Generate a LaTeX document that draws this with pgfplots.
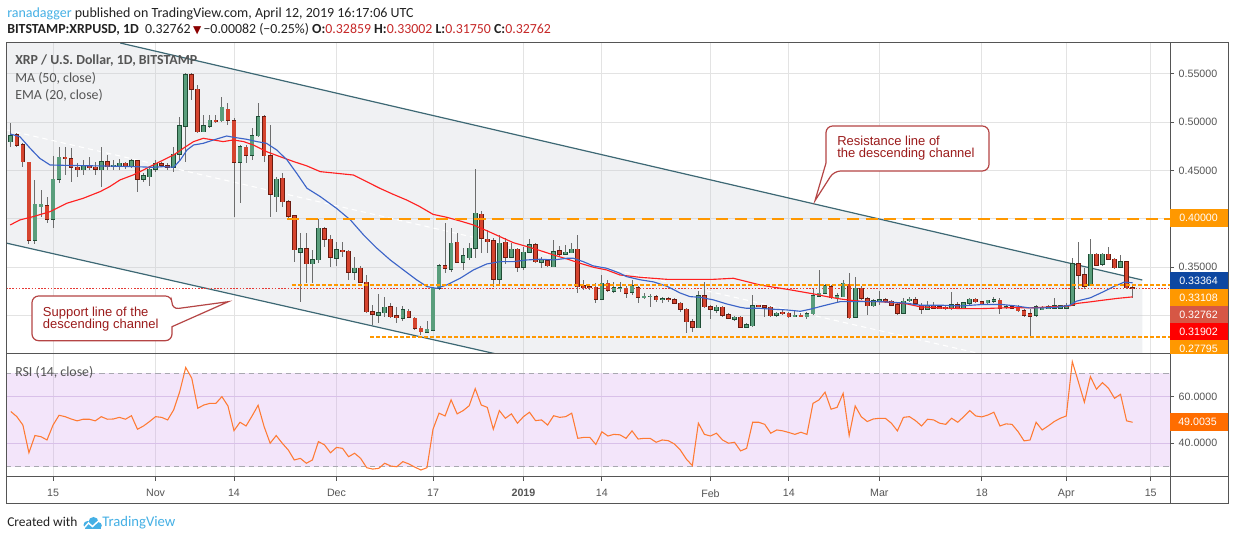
\documentclass[border=0pt]{standalone}
\usepackage{fontspec}
\setmainfont{Carlito}
\newfontfamily\arial{Liberation Sans}
\newfontfamily\dejavu{DejaVu Sans}
\usepackage{pgfplots}
\usepackage{pgfplotstable}
\pgfplotsset{compat=1.18}

\definecolor{upfill}{HTML}{5A9E7C}
\definecolor{upline}{HTML}{1F4D35}
\definecolor{dnfill}{HTML}{D5442E}
\definecolor{dnline}{HTML}{6B1B10}
\definecolor{wick}{HTML}{6E6E6E}
\definecolor{macol}{HTML}{FF2020}
\definecolor{emacol}{HTML}{3C64C8}
\definecolor{chan}{HTML}{3D6874}
\definecolor{chanbase}{HTML}{C7CBD3}
\definecolor{gridc}{HTML}{E3E3E3}
\definecolor{orng}{HTML}{FF9800}
\definecolor{pricered}{HTML}{E53935}
\definecolor{framec}{HTML}{555555}
\definecolor{lbl}{HTML}{555555}
\definecolor{boxblue}{HTML}{0D47A1}
\definecolor{boxsalmon}{HTML}{D65745}
\definecolor{boxred}{HTML}{FF0000}
\definecolor{rsibox}{HTML}{FF6D00}
\definecolor{rsiline}{HTML}{FF7A33}
\definecolor{rsibandbase}{HTML}{D39BEF}
\definecolor{rsihgrid}{HTML}{DCCDE8}
\definecolor{dashgray}{HTML}{A8A8B0}
\definecolor{callline}{HTML}{B54545}
\definecolor{calltext}{HTML}{9B1B1B}
\definecolor{tvblue}{HTML}{45B0E5}
\definecolor{hdr}{HTML}{222222}
\definecolor{valred}{HTML}{C62828}
\definecolor{darkred}{HTML}{8B0000}

\pgfplotstableread{
d o h l c
-7 0.4798 0.4995 0.4746 0.4856
-6 0.4867 0.4884 0.4746 0.4763
-5 0.4763 0.4780 0.4539 0.4591
-4 0.4584 0.4591 0.3735 0.3780
-3 0.3780 0.4401 0.3735 0.4149
-2 0.4125 0.4298 0.4021 0.4149
-1 0.4135 0.4229 0.3953 0.3994
0 0.3994 0.4653 0.3901 0.4408
1 0.4408 0.4746 0.4373 0.4636
2 0.4636 0.4739 0.4453 0.4629
3 0.4622 0.4729 0.4377 0.4532
4 0.4532 0.4573 0.4435 0.4505
5 0.4505 0.4608 0.4453 0.4549
6 0.4546 0.4643 0.4505 0.4532
7 0.4532 0.4591 0.4453 0.4511
8 0.4505 0.4739 0.4332 0.4591
9 0.4591 0.4660 0.4505 0.4539
10 0.4539 0.4608 0.4505 0.4553
11 0.4546 0.4618 0.4505 0.4573
12 0.4573 0.4591 0.4511 0.4539
13 0.4539 0.4615 0.4522 0.4598
14 0.4598 0.4608 0.4280 0.4408
15 0.4408 0.4470 0.4384 0.4442
16 0.4435 0.4546 0.4339 0.4511
17 0.4511 0.4608 0.4487 0.4570
18 0.4567 0.4591 0.4539 0.4556
19 0.4549 0.4573 0.4505 0.4532
20 0.4532 0.4746 0.4487 0.4667
21 0.4667 0.5056 0.4608 0.4960
22 0.4960 0.5505 0.4591 0.5488
23 0.5488 0.5512 0.5229 0.5339
24 0.5339 0.5384 0.4884 0.4901
25 0.4901 0.5074 0.4895 0.4963
26 0.4960 0.5074 0.4936 0.5019
27 0.5019 0.5074 0.4987 0.5012
28 0.5015 0.5257 0.5005 0.5153
29 0.5132 0.5201 0.4970 0.5019
30 0.5012 0.5039 0.4021 0.4584
31 0.4584 0.4763 0.4160 0.4746
32 0.4739 0.4763 0.4573 0.4660
33 0.4660 0.4936 0.4608 0.4860
34 0.4860 0.5195 0.4849 0.5056
35 0.5056 0.5074 0.4591 0.4653
36 0.4653 0.4970 0.4015 0.4256
37 0.4229 0.4435 0.4073 0.4408
38 0.4418 0.4470 0.4125 0.4177
39 0.4177 0.4194 0.4004 0.4028
40 0.4028 0.4039 0.3556 0.3677
41 0.3652 0.3856 0.3135 0.3690
42 0.3690 0.3856 0.3332 0.3532
43 0.3532 0.3677 0.3332 0.3573
44 0.3573 0.3994 0.3539 0.3901
45 0.3894 0.3918 0.3711 0.3787
46 0.3787 0.3831 0.3504 0.3600
47 0.3590 0.3762 0.3511 0.3676
48 0.3672 0.3762 0.3607 0.3662
49 0.3662 0.3676 0.3366 0.3445
50 0.3445 0.3600 0.3366 0.3487
51 0.3487 0.3511 0.3338 0.3341
52 0.3341 0.3418 0.3021 0.3038
53 0.3038 0.3107 0.2900 0.3010
54 0.3003 0.3217 0.2924 0.3028
55 0.3028 0.3193 0.2986 0.3083
56 0.3090 0.3124 0.2969 0.2986
57 0.2993 0.3090 0.2924 0.2979
58 0.2969 0.3097 0.2945 0.3055
59 0.3041 0.3062 0.2969 0.2979
60 0.2969 0.2986 0.2848 0.2865
61 0.2865 0.2889 0.2797 0.2831
62 0.2824 0.2945 0.2814 0.2855
63 0.2848 0.3297 0.2841 0.3279
64 0.3279 0.3531 0.3262 0.3514
65 0.3514 0.3952 0.3435 0.3487
66 0.3476 0.3900 0.3452 0.3745
67 0.3756 0.3849 0.3538 0.3548
68 0.3548 0.3694 0.3469 0.3617
69 0.3597 0.3752 0.3573 0.3694
70 0.3694 0.4511 0.3590 0.4056
71 0.4045 0.4080 0.3642 0.3797
72 0.3787 0.3883 0.3642 0.3762
73 0.3769 0.3797 0.3297 0.3376
74 0.3376 0.3831 0.3324 0.3745
75 0.3756 0.3797 0.3531 0.3600
76 0.3600 0.3745 0.3590 0.3683
77 0.3683 0.3694 0.3452 0.3497
78 0.3497 0.3711 0.3469 0.3652
79 0.3652 0.3790 0.3642 0.3728
80 0.3728 0.3745 0.3538 0.3555
81 0.3548 0.3607 0.3487 0.3580
82 0.3562 0.3580 0.3497 0.3511
83 0.3504 0.3780 0.3497 0.3659
84 0.3666 0.3718 0.3607 0.3635
85 0.3635 0.3728 0.3624 0.3652
86 0.3649 0.3745 0.3642 0.3683
87 0.3683 0.3831 0.3228 0.3297
88 0.3304 0.3366 0.3262 0.3290
89 0.3297 0.3314 0.3262 0.3290
90 0.3290 0.3331 0.3131 0.3166
91 0.3166 0.3418 0.3159 0.3331
92 0.3331 0.3366 0.3245 0.3262
93 0.3252 0.3349 0.3235 0.3286
94 0.3279 0.3349 0.3245 0.3286
95 0.3279 0.3304 0.3176 0.3228
96 0.3238 0.3366 0.3210 0.3304
97 0.3286 0.3304 0.3124 0.3186
98 0.3190 0.3228 0.3166 0.3197
99 0.3193 0.3217 0.3083 0.3197
100 0.3193 0.3210 0.3141 0.3159
101 0.3162 0.3193 0.3124 0.3169
102 0.3169 0.3186 0.3141 0.3162
103 0.3159 0.3176 0.3117 0.3124
104 0.3124 0.3141 0.3038 0.3062
105 0.3062 0.3072 0.2821 0.2934
106 0.2934 0.2958 0.2831 0.2876
107 0.2872 0.3255 0.2865 0.3203
108 0.3203 0.3345 0.3072 0.3090
109 0.3090 0.3107 0.2958 0.3062
110 0.3055 0.3107 0.3021 0.3083
111 0.3083 0.3097 0.2979 0.3003
112 0.3003 0.3021 0.2958 0.2969
113 0.2958 0.2993 0.2945 0.2979
114 0.2979 0.2993 0.2865 0.2876
115 0.2876 0.2917 0.2865 0.2900
116 0.2893 0.3210 0.2883 0.3100
117 0.3103 0.3107 0.3083 0.3097
118 0.3100 0.3107 0.2986 0.3083
119 0.3083 0.3097 0.2986 0.2996
120 0.3003 0.3038 0.2979 0.3021
121 0.3031 0.3062 0.3003 0.3024
122 0.3021 0.3038 0.2969 0.2986
123 0.2993 0.3048 0.2979 0.3000
124 0.3000 0.3021 0.2986 0.2993
125 0.2986 0.3038 0.2958 0.3014
126 0.3014 0.3276 0.3003 0.3200
127 0.3200 0.3469 0.3193 0.3228
128 0.3228 0.3324 0.3221 0.3304
129 0.3297 0.3314 0.3166 0.3186
130 0.3183 0.3228 0.3141 0.3203
131 0.3193 0.3366 0.3186 0.3331
132 0.3321 0.3435 0.2958 0.2976
133 0.2979 0.3400 0.2969 0.3279
134 0.3279 0.3304 0.3159 0.3176
135 0.3169 0.3186 0.3003 0.3100
136 0.3100 0.3166 0.3090 0.3148
137 0.3148 0.3255 0.3107 0.3162
138 0.3159 0.3176 0.3124 0.3148
139 0.3145 0.3159 0.3097 0.3107
140 0.3107 0.3131 0.3003 0.3021
141 0.3021 0.3176 0.3014 0.3145
142 0.3159 0.3193 0.3141 0.3166
143 0.3159 0.3186 0.3107 0.3124
144 0.3097 0.3122 0.3016 0.3062
145 0.3062 0.3146 0.3051 0.3104
146 0.3104 0.3139 0.3069 0.3076
147 0.3087 0.3104 0.3062 0.3069
148 0.3083 0.3104 0.3051 0.3069
149 0.3069 0.3238 0.3051 0.3111
150 0.3111 0.3139 0.3069 0.3076
151 0.3076 0.3139 0.3062 0.3132
152 0.3122 0.3182 0.3104 0.3167
153 0.3167 0.3175 0.3122 0.3139
154 0.3139 0.3146 0.3104 0.3122
155 0.3132 0.3157 0.3111 0.3153
156 0.3146 0.3192 0.3132 0.3160
157 0.3157 0.3175 0.3016 0.3076
158 0.3083 0.3104 0.3069 0.3090
159 0.3087 0.3097 0.3062 0.3076
160 0.3076 0.3104 0.3034 0.3048
161 0.3048 0.3069 0.2981 0.2999
162 0.3016 0.3069 0.2780 0.2992
163 0.2999 0.3104 0.2981 0.3087
164 0.3062 0.3097 0.3051 0.3076
165 0.3069 0.3104 0.3062 0.3090
166 0.3076 0.3175 0.3062 0.3097
167 0.3076 0.3111 0.3069 0.3097
168 0.3076 0.3122 0.3069 0.3104
169 0.3104 0.3596 0.3097 0.3533
170 0.3533 0.3754 0.3273 0.3414
171 0.3421 0.3491 0.3273 0.3298
172 0.3308 0.3790 0.3298 0.3631
173 0.3631 0.3649 0.3508 0.3519
174 0.3526 0.3649 0.3508 0.3631
175 0.3631 0.3702 0.3568 0.3579
176 0.3579 0.3589 0.3484 0.3491
177 0.3498 0.3621 0.3491 0.3551
178 0.3551 0.3561 0.3270 0.32844
179 0.32859 0.33002 0.31750 0.32762
}\candles

\pgfplotstableread{
d v
-7.1 0.4877
-5.5 0.4849
-3.8 0.4729
-2.2 0.4625
-0.5 0.4556
1.2 0.4553
7.8 0.4546
13.3 0.4539
16.6 0.4532
18.3 0.4539
20.0 0.4532
21.1 0.4608
22.2 0.4711
23.3 0.4763
24.9 0.4780
26.6 0.4815
28.8 0.4856
29.9 0.4843
32.1 0.4822
33.8 0.4798
35.4 0.4780
37.1 0.4711
38.8 0.4608
40.4 0.4470
42.1 0.4315
44.3 0.4229
47.0 0.4107
49.3 0.3987
51.5 0.3831
53.7 0.3694
55.9 0.3573
58.1 0.3469
60.3 0.3366
62.0 0.3297
63.6 0.3279
65.3 0.3314
67.5 0.3383
69.7 0.3469
71.9 0.3531
74.1 0.3555
76.3 0.3555
78.6 0.3573
80.8 0.3580
83.0 0.3573
85.2 0.3590
86.3 0.3590
87.9 0.3555
89.6 0.3511
91.8 0.3487
94.0 0.3435
95.1 0.3400
97.3 0.3368
99.6 0.3345
101.8 0.3300
104.0 0.3230
105.6 0.3193
107.3 0.3186
109.5 0.3159
111.7 0.3117
113.9 0.3083
115.0 0.3072
117.2 0.3072
119.5 0.3062
121.7 0.3055
123.9 0.3041
125.5 0.3062
127.2 0.3090
129.4 0.3124
130.5 0.3141
132.7 0.3141
134.9 0.3141
137.1 0.3141
139.3 0.3134
141.6 0.3124
143.8 0.3104
147.2 0.3104
150.6 0.3097
154.0 0.3111
157.4 0.3111
159.6 0.3097
161.9 0.3076
164.1 0.3076
166.4 0.3083
168.6 0.3104
169.7 0.3146
172.0 0.3181
174.2 0.3245
175.9 0.3298
177.6 0.3343
179.0 0.33364
}\ema

\pgfplotstableread{
d v
-7.1 0.3935
-5.5 0.3987
-3.3 0.4021
-0.5 0.4073
2.3 0.4160
5.0 0.4211
7.8 0.4280
9.4 0.4332
11.1 0.4401
13.3 0.4453
15.0 0.4505
16.6 0.4556
18.3 0.4608
20.0 0.4660
21.6 0.4729
23.3 0.4798
24.9 0.4832
26.6 0.4815
28.2 0.4798
29.9 0.4815
31.6 0.4798
33.2 0.4763
35.4 0.4694
37.6 0.4643
39.9 0.4591
42.1 0.4546
44.3 0.4487
47.0 0.4470
49.8 0.4452
52.0 0.4383
54.2 0.4314
56.4 0.4252
58.6 0.4194
60.8 0.4125
63.0 0.4045
65.3 0.4014
67.5 0.3976
69.7 0.3935
71.9 0.3876
74.1 0.3814
76.3 0.3752
78.6 0.3711
80.8 0.3669
83.0 0.3624
85.2 0.3583
87.4 0.3538
89.6 0.3497
91.8 0.3469
94.0 0.3417
97.3 0.3393
101.8 0.3372
106.2 0.3372
109.5 0.3372
112.8 0.3383
115.0 0.3349
117.2 0.3314
119.5 0.3290
121.7 0.3269
123.9 0.3245
126.1 0.3221
128.3 0.3193
130.5 0.3169
132.7 0.3152
134.9 0.3141
137.1 0.3141
139.3 0.3131
141.6 0.3117
143.8 0.3087
147.2 0.3076
150.6 0.3069
154.0 0.3069
157.4 0.3076
159.6 0.3080
161.9 0.3076
164.1 0.3083
166.4 0.3090
168.6 0.3097
169.7 0.3122
172.0 0.3139
174.2 0.3157
176.5 0.3175
179.0 0.31902
}\ma

\pgfplotstableread{
d r
-7 53.6
-6 51.4
-5 47.8
-4 35.9
-3 43.3
-2 42.8
-1 41.4
0 47.8
1 52.0
2 51.4
3 50.4
4 49.6
5 50.3
6 50.3
7 49.6
8 51.4
9 50.3
10 50.4
11 51.1
12 50.3
13 51.8
14 46.0
15 47.4
16 49.3
17 51.4
18 51.1
19 50.0
20 54.3
21 62.1
22 72.5
23 67.9
24 55.0
25 56.4
26 57.1
27 57.1
28 60.0
29 56.0
30 45.4
31 49.0
32 47.4
33 51.7
34 56.3
35 47.1
36 40.0
37 43.3
38 40.0
39 37.1
40 32.8
41 33.5
42 31.4
43 32.8
44 40.7
45 39.3
46 35.9
47 38.2
48 37.8
49 34.2
50 35.7
51 33.5
52 29.5
53 28.9
54 29.2
55 31.4
56 30.2
57 29.9
58 32.1
59 31.1
60 29.7
61 28.5
62 29.5
63 46.0
64 52.9
65 51.7
66 58.6
67 52.6
68 54.0
69 56.1
70 63.4
71 56.4
72 55.4
73 46.0
74 54.0
75 50.7
76 52.6
77 48.6
78 51.4
79 53.3
80 49.7
81 50.0
82 47.8
83 51.8
84 51.1
85 51.4
86 52.9
87 42.1
88 42.5
89 42.5
90 39.5
91 44.9
92 43.1
93 43.8
94 43.6
95 42.1
96 45.3
97 41.8
98 42.1
99 42.1
100 40.4
101 41.4
102 41.1
103 39.7
104 37.1
105 33.2
106 30.4
107 48.6
108 43.8
109 43.1
110 44.3
111 41.4
112 40.0
113 40.4
114 36.7
115 37.8
116 49.0
117 49.0
118 48.1
119 44.3
120 45.7
121 45.3
122 44.6
123 43.8
124 44.7
125 43.8
126 57.1
127 58.6
128 61.9
129 54.6
130 55.4
131 61.4
132 43.3
133 56.0
134 51.4
135 49.3
136 50.4
137 50.7
138 50.7
139 48.6
140 45.3
141 51.1
142 51.4
143 49.7
144 47.4
145 50.3
146 50.0
147 48.6
148 48.1
149 50.7
150 49.0
151 51.4
152 54.0
153 51.7
154 51.3
155 52.1
156 53.3
157 47.4
158 48.3
159 48.1
160 45.0
161 41.0
162 41.4
163 49.0
164 45.7
165 47.4
166 49.3
167 50.7
168 51.7
169 75.0
170 66.4
171 57.6
172 68.6
173 63.2
174 66.0
175 63.6
176 59.3
177 61.0
178 49.6
179 49.0
}\rsi

\pgfplotsset{
  chartbase/.style={
    scale only axis, width=873pt, anchor=south west,
    xmin=-7.8, xmax=185.2,
    axis line style={draw=none},
    xtick={0,17,30,47,63,78,91,109,122,137,154,168,182},
    ytick pos=right, yticklabel pos=right,
    tick align=outside, major tick length=3pt,
    ytick style={draw=lbl, line width=0.6pt},
    scaled y ticks=false,
    tick label style={font=\arial\fontsize{8}{9}\selectfont, text=lbl},
    yticklabel style={anchor=west},
    grid=major,
  },
  bars/.style={draw=none, mark=none, forget plot},
}

\begin{document}
\begin{tikzpicture}
\path[use as bounding box, fill=white] (0,0) rectangle (925.5pt,405.75pt);

% ---------------- price panel ----------------
\begin{axis}[chartbase,
  at={(4.5pt,140.25pt)}, height=233.25pt,
  ymin=0.2599, ymax=0.5819,
  xticklabels={}, xtick style={draw=none},
  ytick={0.30,0.35,0.40,0.45,0.50,0.55},
  yticklabels={,0.35000,,0.45000,0.50000,0.55000},
  grid style={draw=gridc, line width=0.7pt},
]
  \addplot[draw=none, fill=chanbase, fill opacity=0.25]
    coordinates {(-7.8,0.5819) (11.14,0.5819) (180.6,0.3365) (180.6,0.2599) (73.5,0.2599) (-7.8,0.3748)} -- cycle;
  \addplot[white, line width=0.8pt, dash pattern=on 4pt off 3pt] coordinates {(-7.8,0.4920) (153.9,0.2599)};
  \addplot[chan, line width=0.9pt] coordinates {(11.14,0.5819) (180.6,0.3365)};
  \addplot[chan, line width=0.9pt] coordinates {(-7.8,0.3748) (73.5,0.2599)};
  \addplot[pricered, line width=0.6pt, dash pattern=on 1.2pt off 1.2pt] coordinates {(-7.8,0.32762) (185.2,0.32762)};
  % wicks
  \addplot[bars, error bars/.cd, y dir=both, y explicit, error mark=none,
    error bar style={draw=wick, line width=0.7pt}]
    table[x=d, y expr={(\thisrow{h}+\thisrow{l})/2}, y error expr={(\thisrow{h}-\thisrow{l})/2}]{\candles};
  % up bodies
  \addplot[bars, restrict expr to domain={\thisrow{c}-\thisrow{o}}{0:1},
    error bars/.cd, y dir=both, y explicit, error mark=none,
    error bar style={draw=upline, line width=3.5pt}]
    table[x=d, y expr={(\thisrow{o}+\thisrow{c})/2}, y error expr={abs(\thisrow{c}-\thisrow{o})/2+0.0006}]{\candles};
  \addplot[bars, restrict expr to domain={\thisrow{c}-\thisrow{o}}{0:1},
    error bars/.cd, y dir=both, y explicit, error mark=none,
    error bar style={draw=upfill, line width=2.4pt}]
    table[x=d, y expr={(\thisrow{o}+\thisrow{c})/2}, y error expr={abs(\thisrow{c}-\thisrow{o})/2}]{\candles};
  % down bodies
  \addplot[bars, restrict expr to domain={\thisrow{o}-\thisrow{c}}{0.0000001:1},
    error bars/.cd, y dir=both, y explicit, error mark=none,
    error bar style={draw=dnline, line width=3.5pt}]
    table[x=d, y expr={(\thisrow{o}+\thisrow{c})/2}, y error expr={abs(\thisrow{c}-\thisrow{o})/2+0.0006}]{\candles};
  \addplot[bars, restrict expr to domain={\thisrow{o}-\thisrow{c}}{0.0000001:1},
    error bars/.cd, y dir=both, y explicit, error mark=none,
    error bar style={draw=dnfill, line width=2.4pt}]
    table[x=d, y expr={(\thisrow{o}+\thisrow{c})/2}, y error expr={abs(\thisrow{c}-\thisrow{o})/2}]{\candles};
  % moving averages
  \addplot[macol, line width=0.85pt] table[x=d, y=v]{\ma};
  \addplot[emacol, line width=0.85pt] table[x=d, y=v]{\ema};
  % horizontal levels
  \addplot[orng, line width=1.6pt, dash pattern=on 9pt off 5pt] coordinates {(38.8,0.40) (185.2,0.40)};
  \addplot[orng, line width=1.5pt, dash pattern=on 3pt off 1.5pt] coordinates {(39.6,0.33108) (185.2,0.33108)};
  \addplot[orng, line width=1.5pt, dash pattern=on 3pt off 1.5pt] coordinates {(52.6,0.27795) (185.2,0.27795)};
\end{axis}

% ---------------- RSI panel ----------------
\begin{axis}[chartbase,
  at={(4.5pt,48pt)}, height=92.25pt,
  ymin=25.5, ymax=78.3,
  xticklabels={15,Nov,14,Dec,17,\textbf{2019},14,Feb,14,Mar,18,Apr,15},
  xtick style={draw=lbl, line width=0.6pt},
  xtick pos=bottom,
  xticklabel style={yshift=-2.7pt},
  ytick={40,60}, yticklabels={40.0000,60.0000},
  x grid style={draw=gridc, line width=0.7pt},
  y grid style={draw=rsihgrid, line width=0.7pt},
]
  \addplot[draw=none, fill=rsibandbase, fill opacity=0.25]
    coordinates {(-7.8,30) (185.2,30) (185.2,70) (-7.8,70)} -- cycle;
  \addplot[dashgray, line width=0.7pt, dash pattern=on 4pt off 3pt] coordinates {(-7.8,70) (185.2,70)};
  \addplot[dashgray, line width=0.7pt, dash pattern=on 4pt off 3pt] coordinates {(-7.8,30) (185.2,30)};
  \addplot[rsiline, line width=0.8pt] table[x=d, y=r]{\rsi};
\end{axis}

% ---------------- decorations ----------------
\begin{scope}[x=0.75pt, y=0.75pt]
  % frame
  \draw[framec, line width=0.75pt] (6,37) rectangle (1228,498);
  \draw[framec, line width=0.75pt] (6,187) -- (1228,187);
  \draw[framec, line width=0.75pt] (6,64) -- (1228,64);
  \draw[framec, line width=0.75pt] (1170,37) -- (1170,498);

  % price labels on the right
  \begin{scope}[every node/.style={anchor=west, inner sep=0, text=white, font=\arial\fontsize{8}{9}\selectfont}]
    \fill[orng] (1170.4,314) rectangle (1228,331.5);
    \node at (1179,322.75) {0.40000};
    \fill[boxblue] (1170.4,252) rectangle (1228,268.5);
    \node at (1179,260.25) {0.33364};
    \fill[orng] (1170.4,235) rectangle (1228,252);
    \node at (1179,243.5) {0.33108};
    \fill[boxsalmon] (1170.4,217.5) rectangle (1228,235);
    \node at (1179,226.25) {0.32762};
    \fill[boxred] (1170.4,201) rectangle (1228,217.5);
    \node at (1179,209.25) {0.31902};
    \fill[orng] (1170.4,187.4) rectangle (1228,201);
    \node at (1179,192.3) {0.27795};
    \fill[rsibox] (1170.4,110) rectangle (1227.6,127.5);
    \node at (1178,118.7) {49.0035};
  \end{scope}

  % legends
  \node[anchor=west, inner sep=0, text=lbl] at (15,480) {\fontsize{10.4}{11}\selectfont\bfseries XRP / U.S. Dollar, 1D, BITSTAMP};
  \node[anchor=west, inner sep=0, text=lbl] at (15,463) {\fontsize{10.4}{11}\selectfont MA (50, close)};
  \node[anchor=west, inner sep=0, text=lbl] at (15,446) {\fontsize{10.4}{11}\selectfont EMA (20, close)};
  \node[anchor=west, inner sep=0, text=lbl] at (15,169) {\fontsize{10.4}{11}\selectfont RSI (14, close)};

  % callouts
  \draw[callline, line width=0.9pt, fill=white, rounded corners=5pt]
    (826,378) -- (826,415) -- (989,415) -- (989,370) -- (834,370) [sharp corners] -- (815,340.3) -- cycle;
  \node[anchor=base west, inner sep=0, text=calltext] at (837,395) {\arial\fontsize{9.75}{10}\selectfont Resistance line of};
  \node[anchor=base west, inner sep=0, text=calltext] at (837,383.3) {\arial\fontsize{9.75}{10}\selectfont the descending channel};

  \draw[callline, line width=0.9pt, fill=white, rounded corners=5pt]
    (172,214.3) -- (172,200.3) -- (32,200.3) -- (32,245) -- (172,245) -- (172,231.7) [sharp corners] -- (228.3,239.3) -- cycle;
  \node[anchor=base west, inner sep=0, text=calltext] at (42.7,224.3) {\arial\fontsize{9.75}{10}\selectfont Support line of the};
  \node[anchor=base west, inner sep=0, text=calltext] at (42.7,212.7) {\arial\fontsize{9.75}{10}\selectfont descending channel};

  % header
  \node[anchor=base west, inner sep=0] at (7,523.7) {\fontsize{10.5}{12}\selectfont{\color{tvblue}ranadagger} {\color{hdr}published on TradingView.com, April 12, 2019 16:17:06 UTC}};
  \node[anchor=base west, inner sep=0, text=hdr] at (7,507.3) {\fontsize{10.4}{12}\selectfont\textbf{BITSTAMP:XRPUSD, 1D}\ \ 0.32762\,{\dejavu\fontsize{8}{9}\selectfont\color{darkred}▼}\,−0.00082 (−0.25\%)\ \textbf{O:}{\color{valred}0.32859}\ \textbf{H:}{\color{valred}0.33002}\ \textbf{L:}{\color{valred}0.31750}\ \textbf{C:}{\color{valred}0.32762}};

  % footer
  \node[anchor=base west, inner sep=0, text=hdr] at (7,14) {\fontsize{10.1}{12}\selectfont Created with};
  \fill[tvblue] (87.5,16) circle (4);
  \fill[tvblue] (93.5,19) circle (5);
  \fill[tvblue] (98.5,15.5) circle (3.3);
  \fill[tvblue] (84.5,11.5) rectangle (100.5,16);
  \draw[white, line width=1.1pt] (84,13) -- (88.5,18) -- (92.5,14.5) -- (99.5,21);
  \node[anchor=base west, inner sep=0, text=tvblue] at (102,14) {\fontsize{11}{12}\selectfont TradingView};
\end{scope}
\end{tikzpicture}
\end{document}
